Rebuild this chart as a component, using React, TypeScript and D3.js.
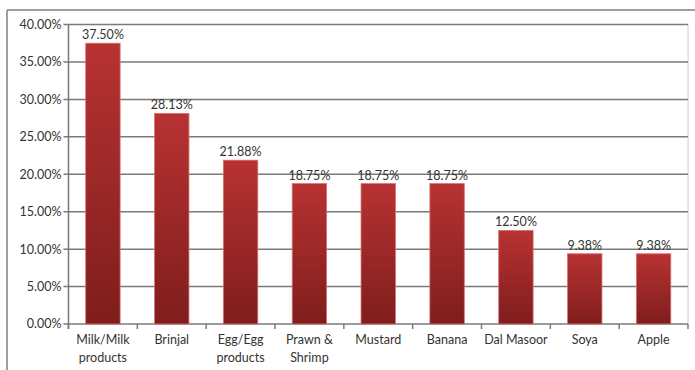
import React from "react";
import * as d3 from "d3";

const categories = [
  ["Milk/Milk", "products"],
  ["Brinjal"],
  ["Egg/Egg", "products"],
  ["Prawn &", "Shrimp"],
  ["Mustard"],
  ["Banana"],
  ["Dal Masoor"],
  ["Soya"],
  ["Apple"],
];
const values = [37.5, 28.13, 21.88, 18.75, 18.75, 18.75, 12.5, 9.38, 9.38];
const yTicks = [0, 5, 10, 15, 20, 25, 30, 35, 40];

export default function App() {
  const W = 695, H = 370;
  const left = 68.5, right = 688, top = 24.5, bottom = 324;
  const x = d3.scaleBand<number>().domain(d3.range(values.length)).range([left, right]).paddingInner(0.5).paddingOuter(0.25);
  const xb = d3.scaleBand<number>().domain(d3.range(values.length)).range([left, right]);
  const y = d3.scaleLinear().domain([0, 40]).range([bottom, top]);
  const font = "Lato, 'Open Sans', sans-serif";
  return (
    <svg width={W} height={H} style={{ position: "absolute", left: 0, top: 0 }}>
      <defs>
        <linearGradient id="bg" x1="0" y1="0" x2="0" y2="1">
          <stop offset="0%" stopColor="#b83232" />
          <stop offset="100%" stopColor="#7f1d1d" />
        </linearGradient>
      </defs>
      <rect x={0} y={0} width={W} height={H} fill="#fff" />
      <line x1={7} x2={W} y1={10} y2={10} stroke="#808080" strokeWidth={1.5} />
      <line x1={7} x2={7} y1={10} y2={H} stroke="#808080" strokeWidth={1.5} />
      <line x1={right} x2={right} y1={top} y2={bottom} stroke="#d0d0d0" strokeWidth={1} />
      {yTicks.map((t) => (
        <g key={t}>
          <line x1={left - 5} x2={t === 0 ? right : right} y1={y(t)} y2={y(t)} stroke="#7a7a7a" strokeWidth={1.5} />
          <text x={left - 7} y={y(t)} dy="0.35em" textAnchor="end" fontFamily={font} fontSize={12.5} fill="#333">
            {t.toFixed(2)}%
          </text>
        </g>
      ))}
      <line x1={left} x2={left} y1={top} y2={bottom + 5} stroke="#7a7a7a" strokeWidth={1.5} />
      {d3.range(values.length + 1).map((i) => {
        const xx = i < values.length ? (xb(i) as number) : right;
        return <line key={i} x1={xx} x2={xx} y1={bottom} y2={bottom + 5} stroke="#7a7a7a" strokeWidth={1.5} />;
      })}
      {values.map((v, i) => (
        <g key={i}>
          <rect
            x={x(i)}
            y={y(v)}
            width={x.bandwidth()}
            height={bottom - y(v)}
            fill="url(#bg)"
            stroke="#d87070"
            strokeWidth={0.8}
          />
          <text x={(x(i) as number) + x.bandwidth() / 2} y={y(v) - 4} textAnchor="middle" fontFamily={font} fontSize={12.5} fill="#333">
            {v.toFixed(2)}%
          </text>
          {categories[i].map((line, j) => (
            <text
              key={j}
              x={(xb(i) as number) + xb.bandwidth() / 2}
              y={340 + j * 18}
              dy="0.35em"
              textAnchor="middle"
              fontFamily={font}
              fontSize={12.5}
              fill="#333"
            >
              {line}
            </text>
          ))}
        </g>
      ))}
    </svg>
  );
}
